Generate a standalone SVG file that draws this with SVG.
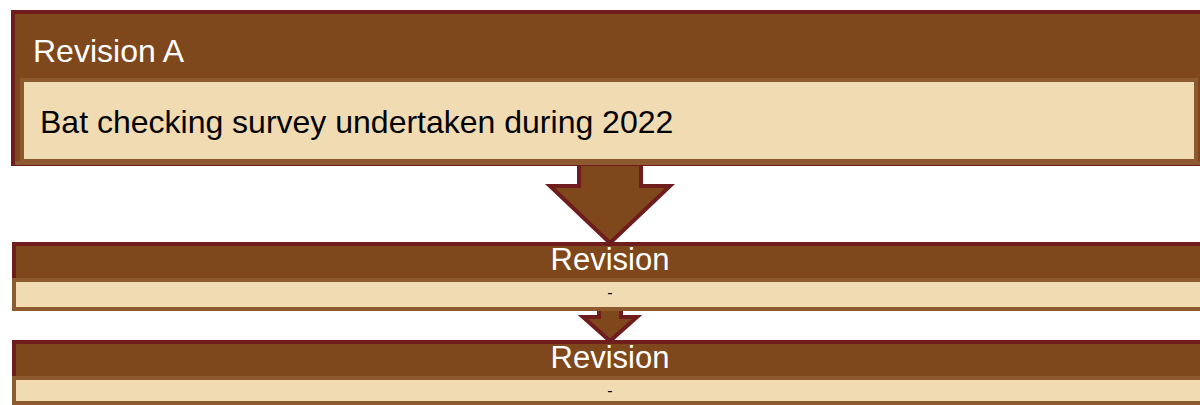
<svg xmlns="http://www.w3.org/2000/svg" width="1200" height="405" viewBox="0 0 1200 405">
<style>
.hdr{fill:#7F481C;stroke:#6E1C1C;stroke-width:4}
.body{fill:#F1DBB2;stroke:#8C5A2E;stroke-width:4}
.arrow{fill:#7F481C;stroke:#6E1C1C;stroke-width:4;stroke-linejoin:miter}
.t{font-family:"Liberation Sans",Arial,sans-serif}
.w{fill:#FFFFFF;font-size:31px}
.w32{fill:#FFFFFF;font-size:32px}
.b{fill:#000000;font-size:32px}
.d{fill:#000000;font-size:16px}
</style>
<rect width="1200" height="405" fill="#FFFFFF"/>
<g id="connectors">
<polygon class="arrow" points="579,150 641,150 641,186 670,186 610,243 550,186 579,186 579,150"/>
<polygon class="arrow" points="599,300 621,300 621,317 637,317 610,341 583,317 599,317 599,300"/>
</g>
<g id="node-revA">
<rect class="hdr" x="13" y="12" width="1192" height="152"/>
<rect x="15" y="161" width="1190" height="4" fill="#8C5A2E"/>
<rect class="body" x="22" y="80" width="1174" height="81" stroke-width="3"/>
<text class="t w32" x="33" y="62">Revision A</text>
<text class="t b" x="40" y="133">Bat checking survey undertaken during 2022</text>
</g>
<g id="node-rev2">
<rect class="hdr" x="14" y="244" width="1192" height="65"/>
<rect class="body" x="14" y="280" width="1192" height="29"/>
<text class="t w" x="610" y="270" text-anchor="middle">Revision</text>
<text class="t d" x="610" y="298" text-anchor="middle">-</text>
</g>
<g id="node-rev3">
<rect class="hdr" x="14" y="342" width="1192" height="70"/>
<rect class="body" x="14" y="378" width="1192" height="25"/>
<text class="t w" x="610" y="368" text-anchor="middle">Revision</text>
<text class="t d" x="610" y="396" text-anchor="middle">-</text>
</g>
</svg>
